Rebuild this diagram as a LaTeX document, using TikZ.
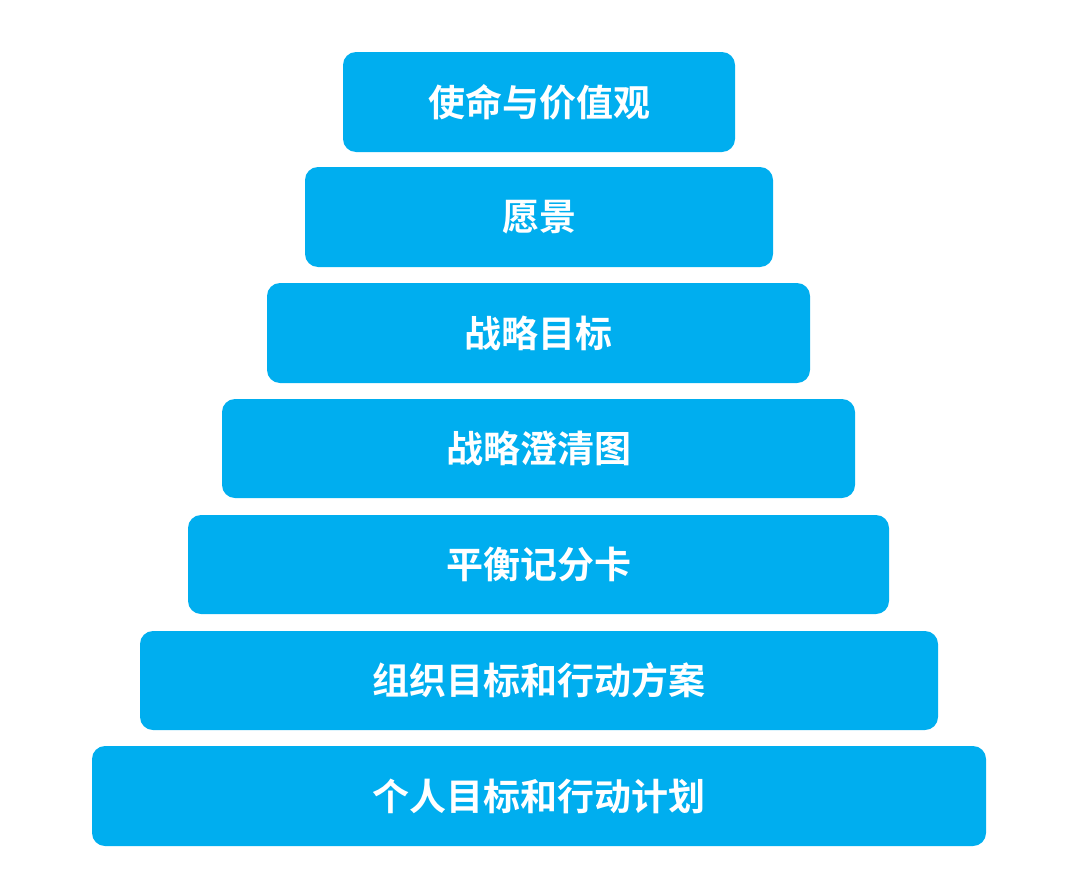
\documentclass[tikz,border=0pt]{standalone}
\usepackage{fontspec}
\newfontfamily\cjk{Noto Sans CJK SC}[BoldFont={Noto Sans CJK SC Bold}]
\definecolor{boxblue}{HTML}{00AEEF}
\begin{document}
\begin{tikzpicture}[x=1bp,y=-1bp,
  tier/.style={fill=boxblue,draw=none,rounded corners=13bp,inner sep=0pt,
    text=white,font=\cjk\bfseries\fontsize{37bp}{42bp}\selectfont}]
\useasboundingbox (0,0) rectangle (1080,888);
\foreach \name/\l/\t/\r/\b/\txt in {
  t1/343/52/735/152/使命与价值观,
  t2/305/167/773/267/愿景,
  t3/267/283/810/383/战略目标,
  t4/222/399/855/498/战略澄清图,
  t5/188/515/889/614/平衡记分卡,
  t6/140/631/938/730/组织目标和行动方案,
  t7/92/746/986/846/个人目标和行动计划}{
  \node[tier,minimum width={(\r-\l)*1bp},minimum height={(\b-\t)*1bp}]
    (\name) at ({(\l+\r)/2},{(\t+\b)/2}) {\txt};
}
\end{tikzpicture}
\end{document}
